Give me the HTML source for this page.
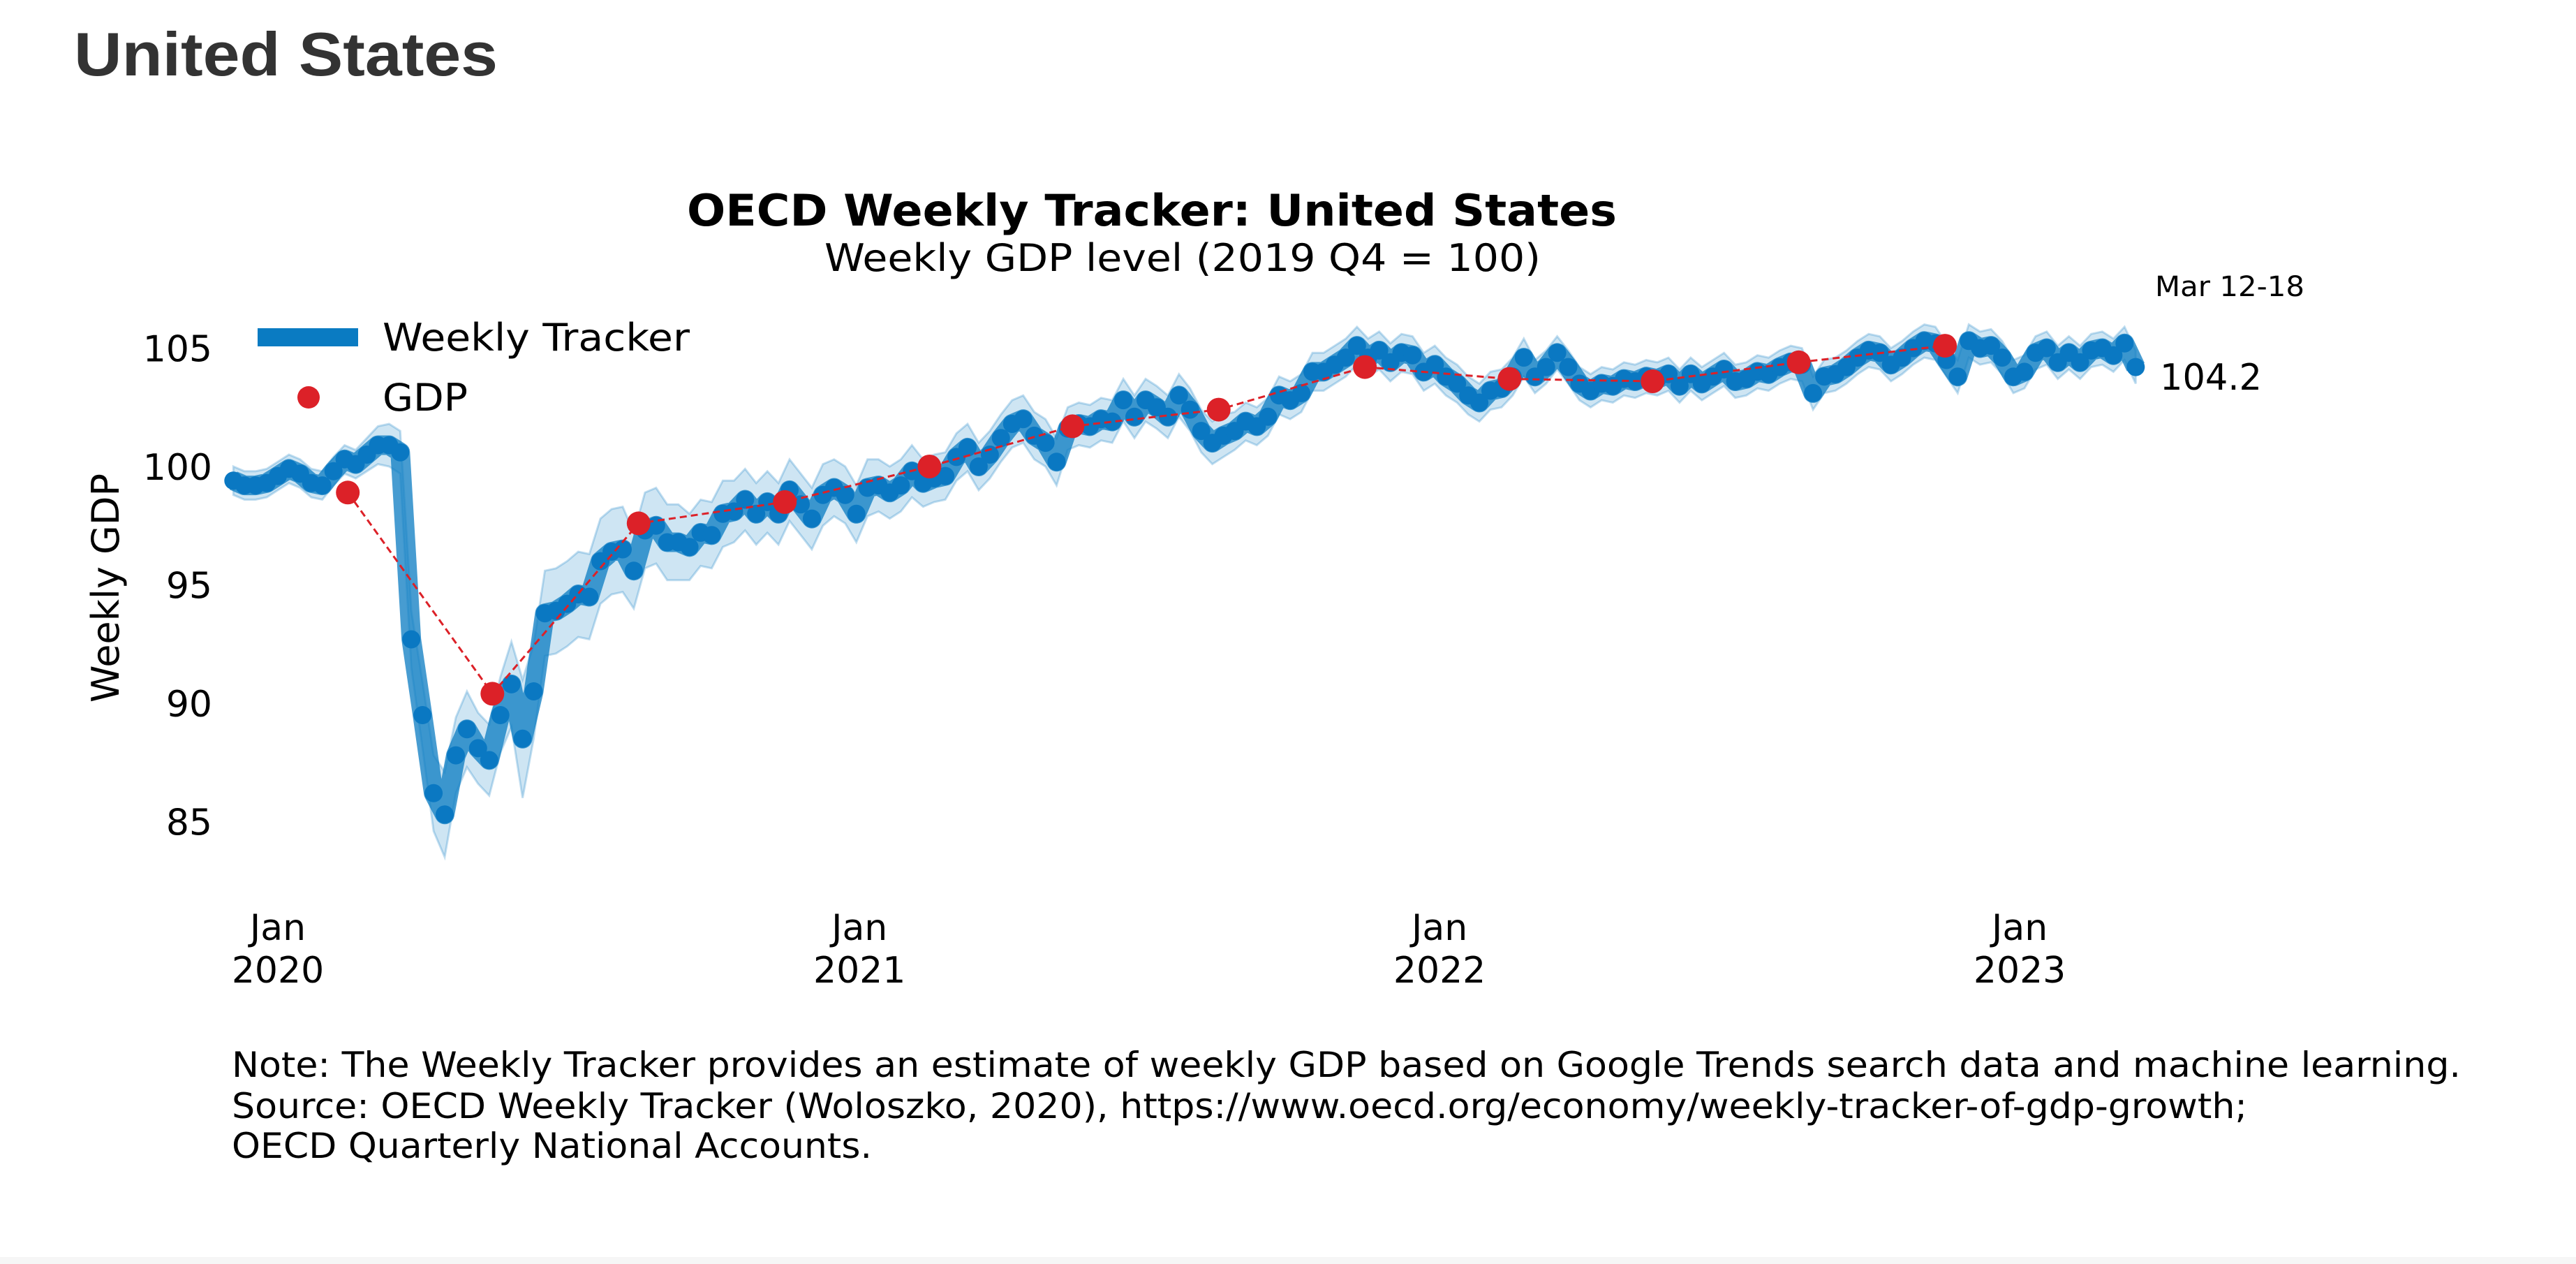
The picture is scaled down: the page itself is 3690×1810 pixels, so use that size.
<!DOCTYPE html>
<html><head><meta charset="utf-8"><style>
html,body{margin:0;padding:0;background:#fff;}
svg{display:block;}
</style></head><body>
<svg id="chart" width="3690" height="1810" xmlns="http://www.w3.org/2000/svg">
<rect x="0" y="1800" width="3690" height="10" fill="#f6f6f6"/>
<text x="106" y="108" font-family="Liberation Sans, sans-serif" font-weight="bold" font-size="88" fill="#333" textLength="607" lengthAdjust="spacingAndGlyphs">United States</text>
<text x="984" y="323" font-family="DejaVu Sans, sans-serif" font-weight="bold" font-size="62" fill="#000" textLength="1332" lengthAdjust="spacingAndGlyphs">OECD Weekly Tracker: United States</text>
<text x="1181" y="388" font-family="DejaVu Sans, sans-serif" font-size="54" fill="#000" textLength="1026" lengthAdjust="spacingAndGlyphs">Weekly GDP level (2019 Q4 = 100)</text>
<text x="3087" y="424" font-family="DejaVu Sans, sans-serif" font-size="40" fill="#000" textLength="214" lengthAdjust="spacingAndGlyphs">Mar 12-18</text>
<text x="3094" y="558" font-family="DejaVu Sans, sans-serif" font-size="52" fill="#000" textLength="146" lengthAdjust="spacingAndGlyphs">104.2</text>
<text transform="translate(170,842) rotate(-90)" text-anchor="middle" font-family="DejaVu Sans, sans-serif" font-size="54" fill="#000">Weekly GDP</text>
<g id="yticks"></g>
<g id="xticks"></g>
<g id="plot"></g>
<g>
<line x1="369" y1="483" x2="513" y2="483" stroke="#0a7bc2" stroke-width="26"/>
<text x="548" y="502" font-family="DejaVu Sans, sans-serif" font-size="54" fill="#000" textLength="440" lengthAdjust="spacingAndGlyphs">Weekly Tracker</text>
<circle cx="442" cy="569" r="16" fill="#dc2128"/>
<text x="548" y="588" font-family="DejaVu Sans, sans-serif" font-size="54" fill="#000" textLength="122" lengthAdjust="spacingAndGlyphs">GDP</text>
</g>
<g font-family="DejaVu Sans, sans-serif" font-size="50" fill="#000">
<text x="332" y="1542" textLength="3193" lengthAdjust="spacingAndGlyphs">Note: The Weekly Tracker provides an estimate of weekly GDP based on Google Trends search data and machine learning.</text>
<text x="332" y="1601" textLength="2887" lengthAdjust="spacingAndGlyphs">Source: OECD Weekly Tracker (Woloszko, 2020), https://www.oecd.org/economy/weekly-tracker-of-gdp-growth;</text>
<text x="332" y="1658" textLength="917" lengthAdjust="spacingAndGlyphs">OECD Quarterly National Accounts.</text>
</g>
</svg>
<script>
const weekly = [99.4,99.2,99.2,99.3,99.6,99.9,99.7,99.3,99.2,99.8,100.3,100.1,100.5,100.9,100.9,100.6,
92.7,89.5,86.2,85.3,87.8,88.9,88.1,87.6,89.5,90.8,88.5,90.5,93.8,93.9,94.2,94.6,94.5,96.0,96.4,96.5,95.6,97.3,97.5,96.8,96.8,96.6,97.2,97.1,98.0,98.1,98.6,98.0,98.5,98.0,99.0,98.4,97.8,98.8,99.1,98.8,98.0,99.1,99.2,98.9,99.2,99.8,99.3,99.5,99.6,100.4,100.8,100.0,100.5,101.2,101.8,102.0,101.3,101.0,100.2,101.6,101.8,101.7,102.0,101.9,102.8,102.1,102.8,102.5,102.1,103.0,102.4,101.5,101.0,101.3,101.5,101.9,101.7,102.1,103.0,102.8,103.1,104.0,104.0,104.3,104.6,105.1,104.6,104.9,104.4,104.8,104.7,104.0,104.3,103.8,103.5,103.0,102.7,103.2,103.3,103.8,104.6,103.8,104.2,104.8,104.2,103.5,103.2,103.5,103.4,103.7,103.6,103.8,103.7,103.9,103.4,103.9,103.5,103.8,104.1,103.6,103.7,104.0,103.9,104.2,104.4,104.3,103.1,103.8,103.9,104.2,104.6,104.9,104.8,104.3,104.6,105.0,105.3,105.2,104.5,103.8,105.3,105.0,105.1,104.6,103.8,104.0,104.8,105.0,104.4,104.8,104.4,104.9,105.0,104.7,105.2,104.2];
const bandHalf = [0.6,0.6,0.6,0.6,0.6,0.6,0.6,0.6,0.6,0.6,0.6,0.6,0.7,0.8,0.9,0.9,
1.2,1.4,1.6,1.8,1.6,1.6,1.5,1.5,1.6,1.8,2.5,2.0,1.8,1.8,1.8,1.8,1.8,1.8,1.8,1.8,1.6,1.6,1.6,1.6,1.6,1.4,1.4,1.4,1.4,1.3,1.3,1.3,1.3,1.3,1.3,1.3,1.3,1.3,1.2,1.2,1.2,1.2,1.1,1.1,1.1,1.1,1.0,1.0,1.0,1.0,1.0,1.0,1.0,1.0,1.0,1.0,1.0,1.0,1.0,0.9,0.9,0.9,0.9,0.9,0.9,0.9,0.9,0.9,0.9,0.9,0.9,0.9,0.9,0.9,0.8,0.8,0.8,0.8,0.8,0.8,0.8,0.8,0.8,0.8,0.8,0.8,0.8,0.8,0.8,0.8,0.8,0.8,0.8,0.8,0.8,0.8,0.8,0.8,0.8,0.8,0.8,0.7,0.7,0.7,0.7,0.7,0.7,0.7,0.7,0.7,0.7,0.7,0.7,0.7,0.7,0.7,0.7,0.7,0.7,0.7,0.7,0.7,0.7,0.7,0.7,0.7,0.7,0.7,0.7,0.7,0.7,0.7,0.7,0.7,0.7,0.7,0.7,0.7,0.7,0.7,0.7,0.7,0.7,0.7,0.7,0.7,0.7,0.7,0.7,0.7,0.7,0.7,0.7,0.7,0.7];
const defaultBand = 0.7;
const gdpQuarters = ["2020-02-14","2020-05-15","2020-08-15","2020-11-15","2021-02-14","2021-05-15","2021-08-15","2021-11-15","2022-02-14","2022-05-15","2022-08-15","2022-11-15"];
const gdpValues = [98.9,90.4,97.6,98.5,100.0,101.7,102.4,104.2,103.7,103.6,104.4,105.1];
const yTickValues = [85,90,95,100,105];
const xTickYears = [2020,2021,2022,2023];
const lastWeek = "2023-03-15";

const NS="http://www.w3.org/2000/svg";
const DAY=86400000;
const t0=Date.UTC(2020,0,1);
function xScale(d){const t=(typeof d==="number")?d:Date.parse(d);return 398+(t-t0)/DAY/365.25*831.5;}
function yScale(v){return 668-(v-100)*33.9;}
function mk(tag,attrs,parent){const e=document.createElementNS(NS,tag);for(const k in attrs)e.setAttribute(k,attrs[k]);parent.appendChild(e);return e;}
function bh(i){return (bandHalf[i]!==undefined)?bandHalf[i]:defaultBand;}

const plot=document.getElementById('plot');
const tEnd=Date.parse(lastWeek);
const n=weekly.length;
const dates=weekly.map((_,i)=>tEnd-(n-1-i)*7*DAY);

let up=[],lo=[];
for(let i=0;i<n;i++){up.push(xScale(dates[i]).toFixed(1)+","+yScale(weekly[i]+bh(i)).toFixed(1));}
for(let i=n-1;i>=0;i--){lo.push(xScale(dates[i]).toFixed(1)+","+yScale(weekly[i]-bh(i)).toFixed(1));}
const band=mk('polygon',{points:up.concat(lo).join(' '),fill:'#0a7bc2','fill-opacity':'0.2',stroke:'#0a7bc2','stroke-opacity':'0.25','stroke-width':'3'},plot);



const line=mk('polyline',{points:weekly.map((v,i)=>xScale(dates[i]).toFixed(1)+","+yScale(v).toFixed(1)).join(' '),fill:'none',stroke:'#0a7bc2','stroke-opacity':'0.75','stroke-width':'28','stroke-linejoin':'round'},plot);



weekly.forEach((v,i)=>{
  const c=mk('circle',{cx:xScale(dates[i]).toFixed(1),cy:yScale(v).toFixed(1),r:'13',fill:'#0a78c2'},plot);
  
  
});

const gl=mk('polyline',{points:gdpValues.map((v,i)=>xScale(gdpQuarters[i]).toFixed(1)+","+yScale(v).toFixed(1)).join(' '),fill:'none',stroke:'#dc2128','stroke-width':'3','stroke-dasharray':'10,6'},plot);


gdpValues.forEach((v,i)=>{
  const c=mk('circle',{cx:xScale(gdpQuarters[i]).toFixed(1),cy:yScale(v).toFixed(1),r:'17',fill:'#dc2128'},plot);
  
  
});

const yt=document.getElementById('yticks');
yTickValues.forEach(v=>{
  const t=mk('text',{x:'304',y:(yScale(v)+19).toFixed(1),'text-anchor':'end','font-family':'DejaVu Sans, sans-serif','font-size':'52',fill:'#000'},yt);
  t.textContent=String(v);
  
  
});
const xt=document.getElementById('xticks');
xTickYears.forEach(yr=>{
  const x=xScale(Date.UTC(yr,0,1));
  const a=mk('text',{x:x.toFixed(1),y:'1346','text-anchor':'middle','font-family':'DejaVu Sans, sans-serif','font-size':'52',fill:'#000'},xt);
  a.textContent='Jan';
  
  
  const b=mk('text',{x:x.toFixed(1),y:'1407','text-anchor':'middle','font-family':'DejaVu Sans, sans-serif','font-size':'52',fill:'#000'},xt);
  b.textContent=String(yr);
  
  
});
</script>
</body></html>
